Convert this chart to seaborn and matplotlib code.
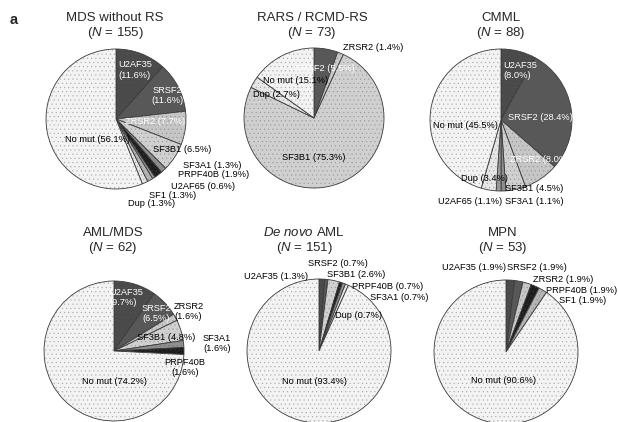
import matplotlib
matplotlib.use("Agg")
import matplotlib.pyplot as plt
import seaborn as sns

# ---------------- data ----------------
mds_genes = ["U2AF35", "SRSF2", "ZRSR2", "SF3B1", "SF3A1", "PRPF40B", "U2AF65", "SF1", "Dup", "No mut"]
mds_pct = [11.6, 11.6, 7.7, 6.5, 1.3, 1.9, 0.6, 1.3, 1.3, 56.1]

rars_genes = ["SRSF2", "ZRSR2", "SF3B1", "Dup", "No mut"]
rars_pct = [5.5, 1.4, 75.3, 2.7, 15.1]

cmml_genes = ["U2AF35", "SRSF2", "ZRSR2", "SF3B1", "SF3A1", "U2AF65", "Dup", "No mut"]
cmml_pct = [8.0, 28.4, 8.0, 4.5, 1.1, 1.1, 3.4, 45.5]

amlmds_genes = ["U2AF35", "SRSF2", "ZRSR2", "SF3B1", "SF3A1", "PRPF40B", "No mut"]
amlmds_pct = [9.7, 6.5, 1.6, 4.8, 1.6, 1.6, 74.2]

denovo_genes = ["U2AF35", "SRSF2", "SF3B1", "PRPF40B", "SF3A1", "Dup", "No mut"]
denovo_pct = [1.3, 0.7, 2.6, 0.7, 0.7, 0.7, 93.4]

mpn_genes = ["U2AF35", "SRSF2", "ZRSR2", "PRPF40B", "SF1", "No mut"]
mpn_pct = [1.9, 1.9, 1.9, 1.9, 1.9, 90.6]

titles = ["MDS without RS", "RARS / RCMD-RS", "CMML",
          "AML/MDS", r"$\it{De}$ $\it{novo}$ AML", "MPN"]
n_cases = [155, 73, 88, 62, 151, 53]

# ---------------- styles / layout ----------------
gene_colors = {
    "U2AF35": "#4a4a4a", "SRSF2": "#585858", "ZRSR2": "#c6c6c6",
    "SF3B1": "#d0d0d0", "SF3A1": "#8e8e8e", "PRPF40B": "#1e1e1e",
    "U2AF65": "#9c9c9c", "SF1": "#b4b4b4", "Dup": "#e6e6e6", "No mut": "#f3f3f3",
}

W, H = 618, 422
# pie centre x, centre y, radius (pixels), title centre x, title y, N y
panel_geom = [
    (116, 119, 70, 115, 18, 33),
    (314, 118, 70, 312, 18, 33),
    (501, 120, 71, 501, 18, 33),
    (114, 351, 70, 113, 233, 248),
    (319, 351, 72, 304, 233, 248),
    (506, 352, 72, 503, 233, 248),
]

# label placement in pie-radius units: gene -> (u, v, ha, colour, two_line)
label_layout = [
    {"U2AF35": (0.03, 0.70, "left", "white", True),
     "SRSF2": (0.73, 0.33, "center", "white", True),
     "ZRSR2": (0.56, -0.04, "center", "white", False),
     "SF3B1": (0.53, -0.44, "left", "black", False),
     "SF3A1": (0.96, -0.66, "left", "black", False),
     "PRPF40B": (0.89, -0.79, "left", "black", False),
     "U2AF65": (0.79, -0.96, "left", "black", False),
     "SF1": (0.47, -1.09, "left", "black", False),
     "Dup": (0.17, -1.21, "left", "black", False),
     "No mut": (-0.27, -0.30, "center", "black", False)},
    {"SRSF2": (0.16, 0.71, "center", "white", False),
     "ZRSR2": (0.41, 1.00, "left", "black", False),
     "SF3B1": (0.00, -0.56, "center", "black", False),
     "Dup": (-0.87, 0.33, "left", "black", False),
     "No mut": (-0.73, 0.54, "left", "black", False)},
    {"U2AF35": (0.03, 0.70, "left", "white", True),
     "SRSF2": (0.10, 0.03, "left", "white", False),
     "ZRSR2": (0.55, -0.56, "center", "white", False),
     "SF3B1": (0.06, -0.97, "left", "black", False),
     "SF3A1": (0.06, -1.15, "left", "black", False),
     "U2AF65": (-0.89, -1.15, "left", "black", False),
     "Dup": (-0.56, -0.82, "left", "black", False),
     "No mut": (-0.96, -0.08, "left", "black", False)},
    {"U2AF35": (-0.07, 0.76, "left", "white", True),
     "SRSF2": (0.60, 0.54, "center", "white", True),
     "ZRSR2": (0.86, 0.56, "left", "black", True),
     "SF3B1": (0.33, 0.20, "left", "black", False),
     "SF3A1": (1.47, 0.11, "center", "black", True),
     "PRPF40B": (1.01, -0.23, "center", "black", True),
     "No mut": (0.00, -0.43, "center", "black", False)},
    {"U2AF35": (-0.15, 1.03, "right", "black", False),
     "SRSF2": (-0.15, 1.21, "left", "black", False),
     "SF3B1": (0.11, 1.06, "left", "black", False),
     "PRPF40B": (0.46, 0.90, "left", "black", False),
     "SF3A1": (0.71, 0.75, "left", "black", False),
     "Dup": (0.22, 0.49, "left", "black", False),
     "No mut": (-0.07, -0.42, "center", "black", False)},
    {"U2AF35": (0.00, 1.18, "right", "black", False),
     "SRSF2": (0.01, 1.18, "left", "black", False),
     "ZRSR2": (0.38, 1.01, "left", "black", False),
     "PRPF40B": (0.55, 0.86, "left", "black", False),
     "SF1": (0.74, 0.71, "left", "black", False),
     "No mut": (-0.04, -0.40, "center", "black", False)},
]

panels = [(mds_genes, mds_pct), (rars_genes, rars_pct), (cmml_genes, cmml_pct),
          (amlmds_genes, amlmds_pct), (denovo_genes, denovo_pct), (mpn_genes, mpn_pct)]

# ---------------- drawing ----------------
sns.set_theme(style="white")
plt.rcParams["font.family"] = ["Liberation Sans", "DejaVu Sans"]
plt.rcParams["mathtext.fontset"] = "custom"
plt.rcParams["mathtext.rm"] = "Liberation Sans"
plt.rcParams["mathtext.it"] = "Liberation Sans:italic"
plt.rcParams["hatch.linewidth"] = 0.4

fig = plt.figure(figsize=(W / 100, H / 100), dpi=100)
fig.patch.set_facecolor("white")

LABEL_FS = 6.7
TITLE_FS = 9.5

for (genes, pct), geom, layout, title, n in zip(panels, panel_geom, label_layout, titles, n_cases):
    cx, cy, r, tx, ty, ny = geom
    ax = fig.add_axes([(cx - r) / W, (H - cy - r) / H, 2 * r / W, 2 * r / H])
    # filled wedges with outlines
    ax.pie(pct, colors=[gene_colors[g] for g in genes], startangle=90,
           counterclock=False, radius=1.0,
           wedgeprops=dict(edgecolor="#3a3a3a", linewidth=0.6))
    # stipple texture over the same wedges (print-like halftone)
    wedges, _ = ax.pie(pct, startangle=90, counterclock=False, radius=1.0,
                       wedgeprops=dict(facecolor="none", linewidth=0))
    for w in wedges:
        w.set_hatch("....")
        w.set_edgecolor((0.35, 0.35, 0.35, 0.35))
        w.set_linewidth(0)
    ax.set_xlim(-1, 1)
    ax.set_ylim(-1, 1)
    ax.set_aspect("auto")
    ax.axis("off")
    for g, p in zip(genes, pct):
        if g not in layout:
            continue
        u, v, ha, col, two = layout[g]
        sep = "\n" if two else " "
        ax.text(u, v, f"{g}{sep}({p:.1f}%)", ha=ha, va="center", color=col,
                fontsize=LABEL_FS, linespacing=1.15, clip_on=False, zorder=5)
    fig.text(tx / W, 1 - ty / H, title, ha="center", va="center", fontsize=TITLE_FS)
    fig.text(tx / W, 1 - ny / H, rf"($\it{{N}}$ = {n})", ha="center", va="center",
             fontsize=TITLE_FS)

fig.text(14 / W, 1 - 20 / H, "a", ha="center", va="center", fontsize=10.5,
         fontweight="bold")

fig.savefig("out.png", dpi=100, facecolor="white")
